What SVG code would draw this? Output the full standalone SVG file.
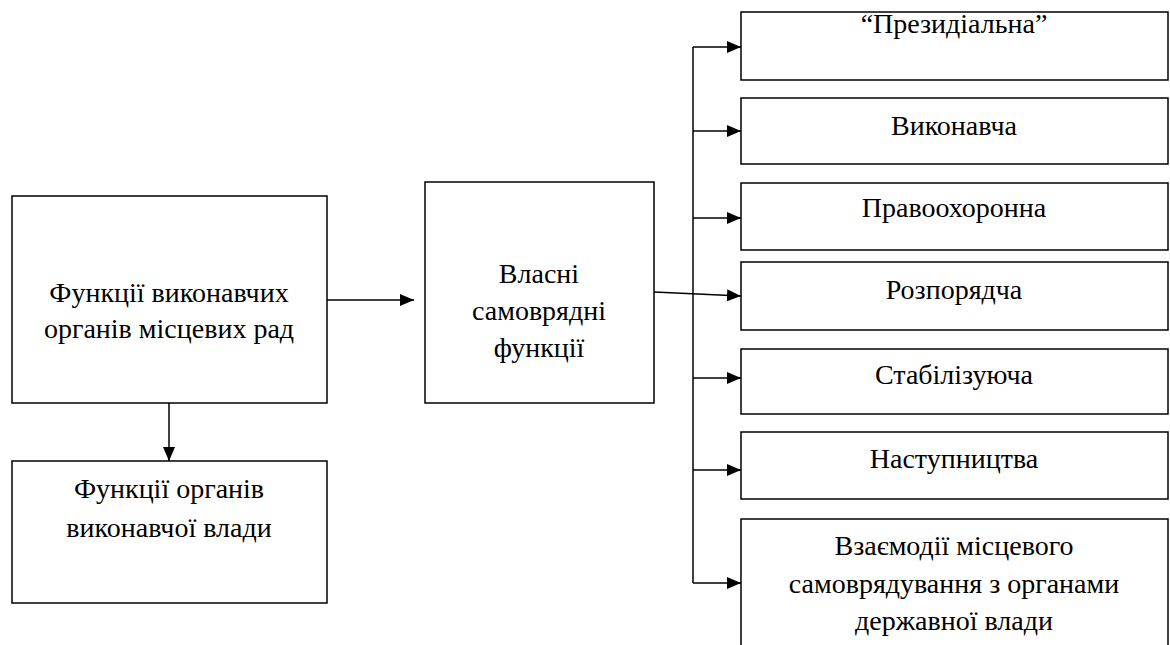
<svg xmlns="http://www.w3.org/2000/svg" width="1170" height="645" viewBox="0 0 1170 645" xml:lang="uk" lang="uk">
<defs>
<marker id="ah" markerWidth="14" markerHeight="12" refX="14" refY="6" orient="auto" markerUnits="userSpaceOnUse">
<path d="M0,0 L14,6 L0,12 Z" fill="#000"/>
</marker>
<style>
svg g text.t{font-family:'Liberation Serif','Times New Roman',Tinos,serif !important;font-size:28px;text-anchor:middle;fill:#000}
svg g rect.b{fill:#fff;stroke:#000;stroke-width:1.5}
svg g line.c{stroke:#000;stroke-width:1.5;fill:none}
</style>
</defs>
<rect x="0" y="0" width="1170" height="645" fill="#fff"/>
<g id="connectors">
<line class="c" x1="327" y1="300" x2="414" y2="300" marker-end="url(#ah)"/>
<line class="c" x1="169" y1="403" x2="169" y2="461" marker-end="url(#ah)"/>
<line class="c" x1="654" y1="292" x2="741" y2="296" marker-end="url(#ah)"/>
<line class="c" x1="693" y1="47" x2="693" y2="583"/>
<line class="c" x1="693" y1="47" x2="741" y2="47" marker-end="url(#ah)"/>
<line class="c" x1="693" y1="131" x2="741" y2="131" marker-end="url(#ah)"/>
<line class="c" x1="693" y1="218" x2="741" y2="218" marker-end="url(#ah)"/>
<line class="c" x1="693" y1="378" x2="741" y2="378" marker-end="url(#ah)"/>
<line class="c" x1="693" y1="470" x2="741" y2="470" marker-end="url(#ah)"/>
<line class="c" x1="693" y1="583" x2="741" y2="583" marker-end="url(#ah)"/>
</g>
<g id="nodes" font-family="'Liberation Serif', 'Times New Roman', serif">
<g id="n1"><rect class="b" x="12" y="196" width="315" height="207"/>
<text class="t" x="169" y="302">Функції виконавчих</text><text class="t" x="169" y="338">органів місцевих рад</text></g>
<g id="n2"><rect class="b" x="425" y="182" width="229" height="221"/>
<text class="t" x="539" y="283">Власні</text><text class="t" x="539" y="320">самоврядні</text><text class="t" x="539" y="357">функції</text></g>
<g id="n3"><rect class="b" x="12" y="461" width="315" height="142"/>
<text class="t" x="169" y="498">Функції органів</text><text class="t" x="169" y="537">виконавчої влади</text></g>
<g id="r1"><rect class="b" x="741" y="12" width="427" height="68"/><text class="t" x="954" y="33">“Президіальна”</text></g>
<g id="r2"><rect class="b" x="741" y="98" width="427" height="66"/><text class="t" x="954" y="135">Виконавча</text></g>
<g id="r3"><rect class="b" x="741" y="183" width="427" height="67"/><text class="t" x="954" y="217">Правоохоронна</text></g>
<g id="r4"><rect class="b" x="741" y="262" width="427" height="68"/><text class="t" x="954" y="299">Розпорядча</text></g>
<g id="r5"><rect class="b" x="741" y="349" width="427" height="65"/><text class="t" x="954" y="384">Стабілізуюча</text></g>
<g id="r6"><rect class="b" x="741" y="432" width="427" height="67"/><text class="t" x="954" y="468">Наступництва</text></g>
<g id="r7"><rect class="b" x="741" y="519" width="427" height="140"/>
<text class="t" x="954" y="555">Взаємодії місцевого</text><text class="t" x="954" y="593">самоврядування з органами</text><text class="t" x="954" y="630">державної влади</text></g>
</g>
</svg>
